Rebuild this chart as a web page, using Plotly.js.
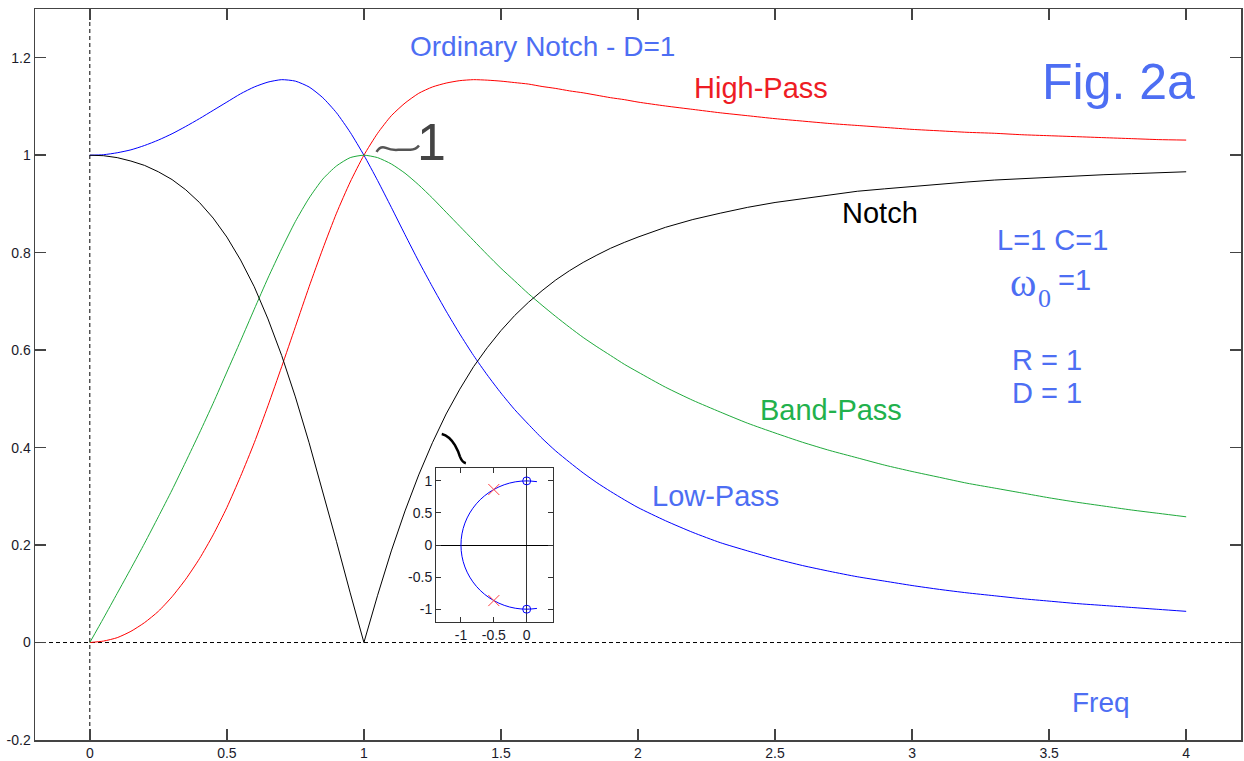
<!DOCTYPE html>
<html>
<head>
<meta charset="utf-8">
<script src="https://cdn.plot.ly/plotly-3.0.1.min.js"></script>
<style>
  html, body { margin: 0; padding: 0; background: #fff; }
  #chart { width: 1244px; height: 761px; }
</style>
</head>
<body>
<div id="chart"></div>
<script>
// Normalised frequency (omega / omega0)
const freq = [
  0, 0.05, 0.1, 0.15, 0.2, 0.25, 0.3, 0.35, 0.4, 0.45,
  0.5, 0.55, 0.6, 0.65, 0.7, 0.75, 0.8, 0.85, 0.9, 0.95,
  1, 1.05, 1.1, 1.15, 1.2, 1.25, 1.3, 1.35, 1.4, 1.45,
  1.5, 1.55, 1.6, 1.65, 1.7, 1.75, 1.8, 1.85, 1.9, 1.95,
  2, 2.1, 2.2, 2.3, 2.4, 2.5, 2.6, 2.7, 2.8, 2.9,
  3, 3.1, 3.2, 3.3, 3.4, 3.5, 3.6, 3.7, 3.8, 3.9, 4
];

// Magnitude responses of the RLC filter (R = 1, L = 1, C = 1)
const lowPass = [
  1, 1.001, 1.005, 1.011, 1.020, 1.031, 1.044, 1.059, 1.075, 1.092,
  1.109, 1.126, 1.140, 1.150, 1.155, 1.152, 1.140, 1.118, 1.087, 1.047,
  1, 0.948, 0.893, 0.837, 0.782, 0.730, 0.680, 0.633, 0.589, 0.549,
  0.512, 0.478, 0.448, 0.419, 0.393, 0.370, 0.348, 0.328, 0.310, 0.293,
  0.277, 0.250, 0.226, 0.205, 0.188, 0.172, 0.158, 0.146, 0.135, 0.126,
  0.117, 0.109, 0.102, 0.096, 0.090, 0.085, 0.080, 0.076, 0.072, 0.068, 0.064
];
const highPass = [
  0, 0.003, 0.010, 0.023, 0.041, 0.064, 0.094, 0.130, 0.172, 0.221,
  0.277, 0.341, 0.410, 0.486, 0.566, 0.648, 0.730, 0.808, 0.881, 0.945,
  1, 1.045, 1.081, 1.107, 1.127, 1.140, 1.148, 1.153, 1.155, 1.154,
  1.152, 1.149, 1.146, 1.141, 1.137, 1.132, 1.128, 1.123, 1.118, 1.114,
  1.109, 1.101, 1.094, 1.087, 1.081, 1.075, 1.070, 1.065, 1.061, 1.057,
  1.053, 1.050, 1.047, 1.045, 1.042, 1.040, 1.038, 1.036, 1.034, 1.032, 1.031
];
const bandPass = [
  0, 0.050, 0.101, 0.152, 0.204, 0.258, 0.313, 0.371, 0.430, 0.491,
  0.555, 0.619, 0.684, 0.748, 0.808, 0.864, 0.912, 0.951, 0.978, 0.995,
  1, 0.995, 0.982, 0.963, 0.939, 0.912, 0.883, 0.854, 0.825, 0.796,
  0.768, 0.742, 0.716, 0.692, 0.669, 0.647, 0.626, 0.607, 0.589, 0.571,
  0.555, 0.524, 0.497, 0.473, 0.450, 0.430, 0.411, 0.394, 0.379, 0.364,
  0.351, 0.339, 0.327, 0.317, 0.307, 0.297, 0.288, 0.280, 0.272, 0.265, 0.258
];
const notch = [
  1, 0.999, 0.995, 0.988, 0.979, 0.966, 0.950, 0.929, 0.903, 0.871,
  0.832, 0.785, 0.730, 0.664, 0.589, 0.504, 0.410, 0.310, 0.207, 0.102,
  0, 0.097, 0.188, 0.270, 0.344, 0.410, 0.469, 0.520, 0.566, 0.605,
  0.640, 0.671, 0.698, 0.722, 0.744, 0.763, 0.780, 0.795, 0.809, 0.821,
  0.832, 0.852, 0.868, 0.881, 0.893, 0.903, 0.911, 0.919, 0.926, 0.931,
  0.936, 0.941, 0.945, 0.949, 0.952, 0.955, 0.958, 0.960, 0.962, 0.964, 0.966
];

// Pole-zero diagram: root locus arc, zeros and poles
const arcRe = [0.156, 0, -0.174, -0.342, -0.5, -0.643, -0.766, -0.866, -0.940, -0.985, -1,
               -0.985, -0.940, -0.866, -0.766, -0.643, -0.5, -0.342, -0.174, 0, 0.156];
const arcIm = [0.988, 1, 0.985, 0.940, 0.866, 0.766, 0.643, 0.5, 0.342, 0.174, 0,
               -0.174, -0.342, -0.5, -0.643, -0.766, -0.866, -0.940, -0.985, -1, -0.988];
const zeroRe = [0, 0];
const zeroIm = [1, -1];
const poleRe = [-0.5, -0.5];
const poleIm = [0.866, -0.866];

// Tick labels
const yTickVals = [-0.2, 0, 0.2, 0.4, 0.6, 0.8, 1, 1.2];
const yTickText = ['-0.2', '0', '0.2', '0.4', '0.6', '0.8', '1', '1.2'];
const xTickVals = [0, 0.5, 1, 1.5, 2, 2.5, 3, 3.5, 4];
const xTickText = ['0', '0.5', '1', '1.5', '2', '2.5', '3', '3.5', '4'];
const pzXTickVals = [-1, -0.5, 0];
const pzXTickText = ['-1', '-0.5', '0'];
const pzYTickVals = [-1, -0.5, 0, 0.5, 1];
const pzYTickText = ['-1', '-0.5', '0', '0.5', '1'];

const BLUE_TXT = '#4d6ef3';
const SANS = 'Liberation Sans, Arial, sans-serif';
const SERIF = 'Liberation Serif, Times New Roman, serif';

const traces = [
  { x: freq, y: lowPass, mode: 'lines', line: { color: '#0000ff', width: 1, shape: 'spline', smoothing: 0.6 }, name: 'Low-Pass' },
  { x: freq, y: highPass, mode: 'lines', line: { color: '#ff0000', width: 1, shape: 'spline', smoothing: 0.6 }, name: 'High-Pass' },
  { x: freq, y: bandPass, mode: 'lines', line: { color: '#1faa3c', width: 1, shape: 'spline', smoothing: 0.6 }, name: 'Band-Pass' },
  { x: freq, y: notch, mode: 'lines', line: { color: '#000000', width: 1 }, name: 'Notch' },
  { x: arcRe, y: arcIm, xaxis: 'x2', yaxis: 'y2', mode: 'lines', line: { color: '#0000ff', width: 1, shape: 'spline' } },
  { x: zeroRe, y: zeroIm, xaxis: 'x2', yaxis: 'y2', mode: 'markers',
    marker: { symbol: 'circle-open', size: 8, color: '#0000ff', line: { width: 1 } } },
  { x: poleRe, y: poleIm, xaxis: 'x2', yaxis: 'y2', mode: 'markers',
    marker: { symbol: 'x-thin-open', size: 11, color: '#ff4040', line: { width: 1, color: '#ff4040' } } }
];

function label(text, x, y, size, color, family) {
  return { text: text, x: x, y: y, xref: 'x', yref: 'y', showarrow: false,
           font: { size: size, color: color, family: family || SANS } };
}

const annotations = [
  label('Ordinary Notch - D=1', 1.650, 1.223, 28, BLUE_TXT),
  label('High-Pass', 2.449, 1.137, 29, '#ee1c24'),
  label('Fig. 2a', 3.752, 1.150, 50, BLUE_TXT),
  label('Notch', 2.883, 0.881, 29, '#000000'),
  label('L=1 C=1', 3.511, 0.827, 29, BLUE_TXT),
  label('\u03c9', 3.405, 0.738, 40, BLUE_TXT, SERIF),
  label('0', 3.482, 0.705, 26, BLUE_TXT, SERIF),
  label('=1', 3.591, 0.743, 29, BLUE_TXT),
  label('R = 1', 3.493, 0.580, 29, BLUE_TXT),
  label('D = 1', 3.493, 0.512, 29, BLUE_TXT),
  label('Band-Pass', 2.704, 0.477, 29, '#22b14c'),
  label('Low-Pass', 2.281, 0.301, 29, BLUE_TXT),
  label('Freq', 3.690, -0.123, 28, BLUE_TXT),
  label('1', 1.248, 1.027, 52, '#444444')
];

const shapes = [
  // dashed reference axes through the origin
  { type: 'line', xref: 'x', yref: 'y', x0: 0, x1: 0, y0: -0.2, y1: 1.3,
    line: { color: '#000', width: 1, dash: '4px,3px' }, layer: 'below' },
  { type: 'line', xref: 'x', yref: 'y', x0: -0.2, x1: 4.2, y0: 0, y1: 0,
    line: { color: '#000', width: 1, dash: '4px,3px' }, layer: 'below' },
  // hand-drawn tilde in front of the big "1"
  { type: 'path', xref: 'x', yref: 'y',
    path: 'M 1.046,1.007 Q 1.060,1.020 1.080,1.015 Q 1.100,1.010 1.125,1.011 L 1.170,1.011 Q 1.190,1.012 1.201,1.020',
    line: { color: '#555555', width: 2.5 } },
  // pointer stroke from the pole-zero inset to the notch curve
  { type: 'path', xref: 'x', yref: 'y',
    path: 'M 1.284,0.428 Q 1.312,0.424 1.332,0.405 Q 1.345,0.392 1.350,0.382 Q 1.358,0.370 1.372,0.368',
    line: { color: '#000000', width: 2.5 } }
];

const tickFont = { family: SANS, size: 14, color: '#1a1a2a' };

const layout = {
  width: 1244, height: 761,
  margin: { l: 35, r: 3, t: 9, b: 21, pad: 0 },
  paper_bgcolor: '#ffffff', plot_bgcolor: '#ffffff',
  showlegend: false,
  xaxis: {
    range: [-0.2, 4.2], tickvals: xTickVals, ticktext: xTickText,
    ticks: 'inside', ticklen: 11, tickcolor: '#444', tickwidth: 1.5,
    showline: true, linecolor: '#444', linewidth: 1.5, mirror: 'ticks',
    showgrid: false, zeroline: false, tickfont: tickFont
  },
  yaxis: {
    range: [-0.2, 1.3], tickvals: yTickVals, ticktext: yTickText,
    ticks: 'inside', ticklen: 11, tickcolor: '#444', tickwidth: 1.5,
    showline: true, linecolor: '#444', linewidth: 1.5, mirror: 'ticks',
    showgrid: false, zeroline: false, tickfont: tickFont
  },
  xaxis2: {
    domain: [0.3325, 0.4295], anchor: 'y2', range: [-1.38, 0.4],
    tickvals: pzXTickVals, ticktext: pzXTickText,
    ticks: 'inside', ticklen: 5, tickcolor: '#333',
    showline: true, linecolor: '#333', linewidth: 1, mirror: 'ticks',
    showgrid: false, zeroline: true, zerolinecolor: '#333', zerolinewidth: 1,
    tickfont: tickFont
  },
  yaxis2: {
    domain: [0.1614, 0.372], anchor: 'x2', range: [-1.2, 1.2],
    tickvals: pzYTickVals, ticktext: pzYTickText,
    ticks: 'inside', ticklen: 5, tickcolor: '#333',
    showline: true, linecolor: '#333', linewidth: 1, mirror: 'ticks',
    showgrid: false, zeroline: true, zerolinecolor: '#000', zerolinewidth: 1,
    tickfont: tickFont
  },
  annotations: annotations,
  shapes: shapes
};

Plotly.newPlot('chart', traces, layout, { staticPlot: true, displayModeBar: false });
</script>
</body>
</html>
